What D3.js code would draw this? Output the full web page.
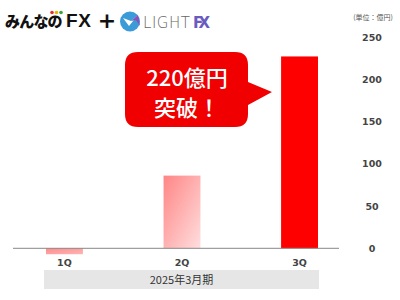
<!DOCTYPE html>
<html><head><meta charset="utf-8">
<script src="https://cdn.jsdelivr.net/npm/d3@7"></script>
<style>body{margin:0;background:#fff}svg{display:block}</style>
</head><body>
<svg id="c" width="400" height="300"></svg>
<script>
const categories = ["1Q", "2Q", "3Q"];
const values = [-7, 86, 227];
const yTicks = [0, 50, 100, 150, 200, 250];
const periodLabel = "2025年3月期";
const unitLabel = "(単位：億円)";
const calloutLines = ["220億円", "突破！"];

const svg = d3.select("#c");
const JP = "'Noto Sans CJK JP','Noto Sans',sans-serif";

const x = d3.scaleBand().domain(categories).range([46, 318]).paddingInner(0.686).paddingOuter(0);
const y = d3.scaleLinear().domain([0, 250]).range([248.3, 37]);

const defs = svg.append("defs");
const g1 = defs.append("linearGradient").attr("id","gA").attr("x1","0").attr("y1","0").attr("x2","1").attr("y2","1");
g1.append("stop").attr("offset","0").attr("stop-color","#ff8c8c");
g1.append("stop").attr("offset","1").attr("stop-color","#ffb4b4");
const g2 = defs.append("linearGradient").attr("id","gB").attr("x1","0").attr("y1","0").attr("x2","1").attr("y2","1");
g2.append("stop").attr("offset","0").attr("stop-color","#ff8585");
g2.append("stop").attr("offset","1").attr("stop-color","#ffdede");
const fills = ["url(#gA)", "url(#gB)", "#ff0000"];

// bars
svg.append("g").selectAll("rect").data(values).join("rect")
  .attr("x", (d,i) => x(categories[i]))
  .attr("width", x.bandwidth())
  .attr("y", d => y(Math.max(0,d)))
  .attr("height", d => Math.abs(y(d) - y(0)))
  .attr("fill", (d,i) => fills[i]);

// baseline
svg.append("line").attr("x1", 13).attr("x2", 339).attr("y1", y(0)).attr("y2", y(0))
  .attr("stroke", "#888").attr("stroke-width", 1);

// right axis labels
const yAxis = d3.axisRight(y).tickValues(yTicks).tickSize(0).tickPadding(0);
const ya = svg.append("g").attr("transform", "translate(372,0)").call(yAxis);
ya.select(".domain").remove();
ya.selectAll("text").attr("text-anchor","middle").attr("font-family","'DejaVu Sans',sans-serif")
  .attr("font-size", 9.5).attr("font-weight","bold").attr("fill","#444");

svg.append("text").attr("x", 373).attr("y", 20).attr("text-anchor","middle")
  .attr("font-family", JP).attr("font-size", 7).attr("fill","#555").text(unitLabel);

// category labels
const xAxis = d3.axisBottom(x).tickSize(0).tickPadding(0);
const xa = svg.append("g").attr("transform","translate(0,266)").call(xAxis);
xa.select(".domain").remove();
xa.selectAll("text").attr("dy", 0).attr("font-family","'DejaVu Sans',sans-serif")
  .attr("font-size", 9.5).attr("font-weight","bold").attr("fill","#444");

// period band
svg.append("rect").attr("x", 44).attr("y", 270).attr("width", 275).attr("height", 19).attr("fill", "#e6e6e6");
svg.append("text").attr("x", 181.5).attr("y", 284).attr("text-anchor","middle")
  .attr("font-family", JP).attr("font-size", 11).attr("fill","#333").text(periodLabel);

// callout
const bx = 125, by = 52, bw = 123, bh = 75, r = 13;
svg.append("path").attr("fill","#f00000")
  .attr("d", `M${bx+r},${by} H${bx+bw-r} Q${bx+bw},${by} ${bx+bw},${by+r} V82 L272,92 L${bx+bw},105 V${by+bh-r} Q${bx+bw},${by+bh} ${bx+bw-r},${by+bh} H${bx+r} Q${bx},${by+bh} ${bx},${by+bh-r} V${by+r} Q${bx},${by} ${bx+r},${by} Z`);
svg.append("g").selectAll("text").data(calloutLines).join("text")
  .attr("x", 187).attr("y", (d,i) => 86 + i*30).attr("text-anchor","middle")
  .attr("font-family", JP).attr("font-weight", 500).attr("font-size", 22).attr("fill","#fff").text(d => d);

// logo: みんなのFX
svg.append("text").attr("x", 5).attr("y", 27).attr("font-family", JP).attr("font-weight","900")
  .attr("font-size", 15).attr("fill","#111").attr("letter-spacing", -0.8).text("みんなの");
svg.append("text").attr("x", 66).attr("y", 27).attr("font-family","'Liberation Sans',sans-serif").attr("font-weight","bold")
  .attr("font-size", 19).attr("fill","#111").attr("textLength", 25).text("FX");
[["#e53030",52],["#f2b200",56.5],["#3aa33a",61]].forEach(([c,cx]) =>
  svg.append("circle").attr("cx",cx).attr("cy",12.5).attr("r",1.8).attr("fill",c));
svg.append("text").attr("x", 107).attr("y", 28).attr("text-anchor","middle").attr("font-family","'DejaVu Sans',sans-serif")
  .attr("font-weight","bold").attr("font-size", 22).attr("fill","#111").text("+");

// logo: LIGHT FX
svg.append("circle").attr("cx",130).attr("cy",21.5).attr("r",10).attr("fill","#3b9bd8");
svg.append("path").attr("d","M123,18 L129,26 L138,15 L131,21 Z").attr("fill","#fff");
svg.append("path").attr("d","M131,21 L138,15 L140,26 L136,20 Z").attr("fill","#8a4fb8");
svg.append("text").attr("x", 143).attr("y", 28).attr("font-family","'DejaVu Sans',sans-serif")
  .attr("font-size", 15).attr("fill","#666").attr("font-weight","300").attr("textLength", 47).text("LIGHT");
svg.append("text").attr("x", 193).attr("y", 28).attr("font-family","'DejaVu Sans',sans-serif")
  .attr("font-size", 15).attr("fill","#6a5bc0").attr("font-weight","bold").attr("textLength", 17).text("FX");
</script>
</body></html>
